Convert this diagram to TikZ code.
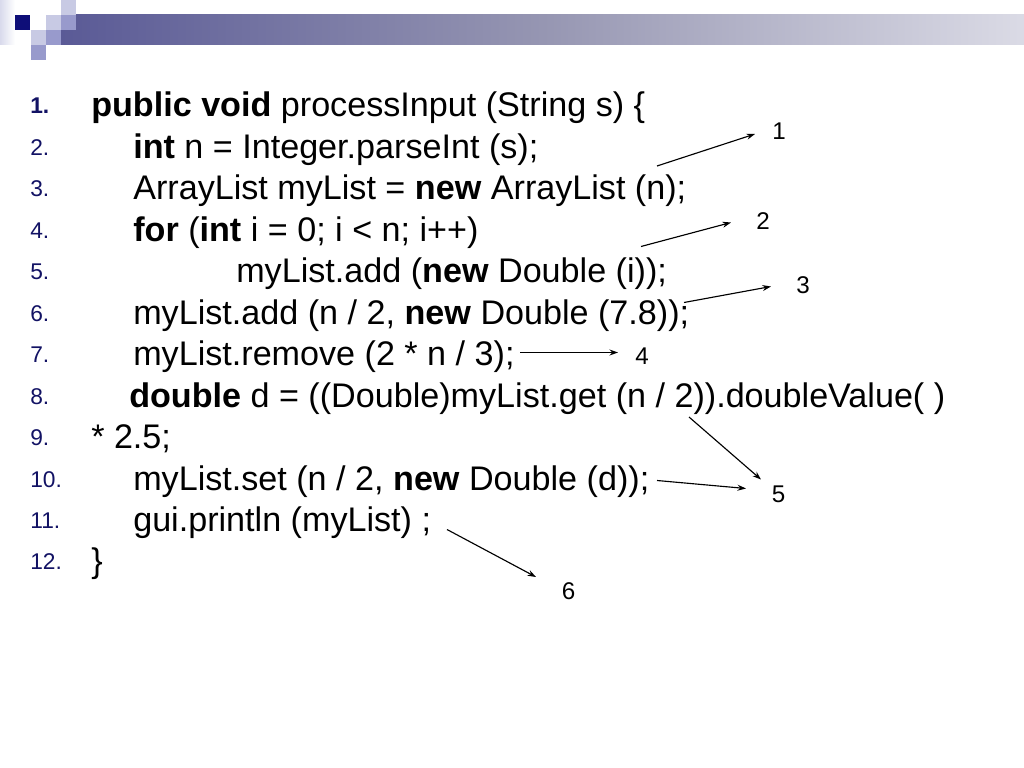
\documentclass[tikz,border=0pt]{standalone}
\usepackage{fontspec}
\setmainfont{Liberation Sans}
\usetikzlibrary{arrows.meta}
\definecolor{navyA}{RGB}{14,14,120}
\definecolor{numcol}{RGB}{18,18,100}
\definecolor{sqlight}{RGB}{200,202,228}
\definecolor{sqmid}{RGB}{152,154,204}
\definecolor{barA}{RGB}{30,30,122}
\definecolor{barB}{RGB}{150,150,178}
\definecolor{barC}{RGB}{246,246,250}
\pgfdeclarehorizontalshading{barshade}{100bp}{color(0bp)=(barA); color(50bp)=(barB); color(85bp)=(barC); color(100bp)=(white)}
\tikzset{
  codeline/.style={anchor=base west, inner sep=0pt, font=\fontsize{24}{29}\selectfont},
  numline/.style={anchor=base west, inner sep=0pt, text=numcol, font=\fontsize{16}{19}\selectfont},
  lbl/.style={anchor=center, inner sep=0pt, font=\fontsize{17}{20}\selectfont},
  arr/.style={line width=0.8pt, -{Stealth[length=6pt,width=4.2pt]}}
}
\begin{document}
\begin{tikzpicture}[x=0.703125pt, y=-0.703125pt]
\useasboundingbox (0,0) rectangle (1024,768);
\fill[white] (0,0) rectangle (1024,768);
% header decoration
\shade[left color=sqlight!70, right color=white] (0,0) rectangle (15,45);
\shade[shading=barshade] (61,15) rectangle (1024,45);
\fill[navyA] (15,15) rectangle (30,30);
\fill[sqlight] (46,15) rectangle (61,30);
\fill[sqlight] (61,0) rectangle (76,15);
\fill[sqmid] (61,15) rectangle (76,30);
\fill[sqlight] (31,30) rectangle (46,45);
\fill[sqmid] (46,30) rectangle (61,45);
\fill[sqmid] (31,45) rectangle (46,60);
% line numbers
\def\lsp{41.45}
\foreach \k/\t in {1/\textbf{1.},2/2.,3/3.,4/4.,5/5.,6/6.,7/7.,8/8.,9/9.,10/10.,11/11.,12/12.}{
  \node[numline] (n\k) at (30,{114+(\k-1)*\lsp}) {\t};
}
% code lines
\node[codeline] (c1) at (91,117) {\textbf{public void} processInput (String s) \{};
\node[codeline] (c2) at (133,158.45) {\textbf{int} n = Integer.parseInt (s);};
\node[codeline] (c3) at (133,199.9) {ArrayList myList = \textbf{new} ArrayList (n);};
\node[codeline] (c4) at (133,241.35) {\textbf{for} (\textbf{int} i = 0; i < n; i++)};
\node[codeline] (c5) at (236,282.8) {myList.add (\textbf{new} Double (i));};
\node[codeline] (c6) at (133,324.25) {myList.add (n / 2, \textbf{new} Double (7.8));};
\node[codeline] (c7) at (133,365.7) {myList.remove (2 * n / 3);};
\node[codeline] (c8) at (129,407.15) {\textbf{double} d = ((Double)myList.get (n / 2)).doubleValue( )};
\node[codeline] (c9) at (91,448.6) {* 2.5;};
\node[codeline] (c10) at (133,490.05) {myList.set (n / 2, \textbf{new} Double (d));};
\node[codeline] (c11) at (133,531.5) {gui.println (myList) ;};
\node[codeline] (c12) at (91,572.95) {\}};
% labels
\node[lbl] (l1) at (779,131.5) {1};
\node[lbl] (l2) at (763,221) {2};
\node[lbl] (l3) at (803,285.5) {3};
\node[lbl] (l4) at (642,356.5) {4};
\node[lbl] (l5) at (778.5,494.5) {5};
\node[lbl] (l6) at (568.5,591.5) {6};
% arrow end points
\coordinate (s1) at (657,166);   \coordinate (t1) at (755,134);
\coordinate (s2) at (641,246.5); \coordinate (t2) at (731,222.5);
\coordinate (s3) at (684,302.5); \coordinate (t3) at (771,286.5);
\coordinate (s4) at (520,352.5); \coordinate (t4) at (618,352.5);
\coordinate (s5a) at (689,417); \coordinate (t5a) at (761,479.5);
\coordinate (s5b) at (657,480.5); \coordinate (t5b) at (746,488.5);
\coordinate (s6) at (447,529.5); \coordinate (t6) at (536,577);
\draw[arr] (s1) -- (t1);
\draw[arr] (s2) -- (t2);
\draw[arr] (s3) -- (t3);
\draw[arr] (s4) -- (t4);
\draw[arr] (s5a) -- (t5a);
\draw[arr] (s5b) -- (t5b);
\draw[arr] (s6) -- (t6);
\end{tikzpicture}
\end{document}
